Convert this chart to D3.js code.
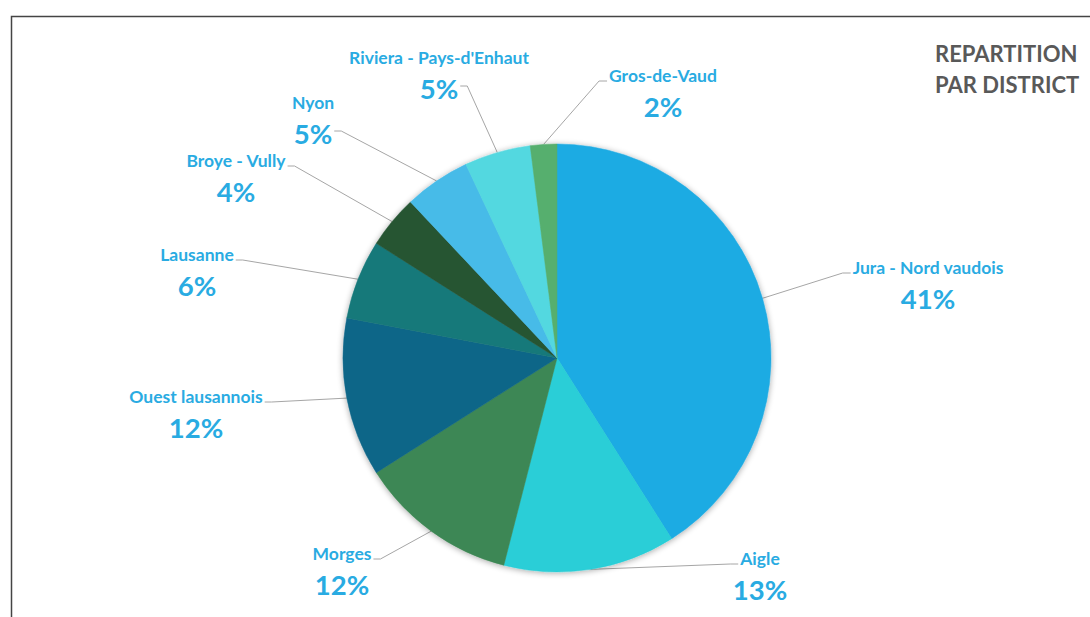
<!DOCTYPE html>
<html>
<head>
<meta charset="utf-8">
<script src="https://cdn.jsdelivr.net/npm/d3@7"></script>
<style>
  html, body { margin: 0; padding: 0; background: #fff; }
  svg { display: block; }
</style>
</head>
<body>
<svg id="chart" width="1090" height="617"></svg>
<script>
// District shares (percent), clockwise from 12 o'clock
const districts = ["Jura - Nord vaudois", "Aigle", "Morges", "Ouest lausannois", "Lausanne",
                   "Broye - Vully", "Nyon", "Riviera - Pays-d'Enhaut", "Gros-de-Vaud"];
const shares = [41, 13, 12, 12, 6, 4, 5, 5, 2];
const sliceColors = ["#1eabe3", "#29ced7", "#3e8754", "#0f6688", "#18797a",
                     "#265433", "#47bbe8", "#52d8e0", "#56af6e"];
const titleLines = ["REPARTITION", "PAR DISTRICT"];

// Label layout: name baseline centre, and which text line the leader joins
const labelPos = [
  { x: 928, y: 274, join: "name" }, { x: 760, y: 565, join: "name" },
  { x: 342, y: 560, join: "name" }, { x: 196, y: 403, join: "name" },
  { x: 197, y: 261, join: "name" }, { x: 236, y: 167, join: "name" },
  { x: 313, y: 109, join: "pct" }, { x: 439, y: 64, join: "pct" },
  { x: 663, y: 82, join: "name" }
];

const svg = d3.select("#chart");
const W = 1090, H = 617;
const cx = 557, cy = 358, R = 214;

// Frame
svg.append("path")
  .attr("d", `M11.5,${H} L11.5,16.5 L${W},16.5`)
  .attr("fill", "none").attr("stroke", "#444").attr("stroke-width", 1.5);

const defs = svg.append("defs");
const f = defs.append("filter").attr("id", "shadow")
  .attr("x", "-10%").attr("y", "-10%").attr("width", "120%").attr("height", "120%");
f.append("feGaussianBlur").attr("in", "SourceAlpha").attr("stdDeviation", 3).attr("result", "b");
f.append("feOffset").attr("in", "b").attr("dx", 0).attr("dy", 1).attr("result", "o");
f.append("feComponentTransfer").attr("in", "o").attr("result", "s")
  .append("feFuncA").attr("type", "linear").attr("slope", 0.35);
const m = f.append("feMerge");
m.append("feMergeNode").attr("in", "s");
m.append("feMergeNode").attr("in", "SourceGraphic");

const data = districts.map((d, i) => ({
  name: d, value: shares[i], color: sliceColors[i],
  pos: { x: labelPos[i].x - cx, y: labelPos[i].y - cy, join: labelPos[i].join }
}));
const pie = d3.pie().value(d => d.value).sort(null);
const arcs = pie(data);
const arc = d3.arc().innerRadius(0).outerRadius(R);

const g = svg.append("g").attr("transform", `translate(${cx},${cy})`);
const leaders = g.append("g");

g.append("g").attr("filter", "url(#shadow)")
  .selectAll("path").data(arcs).join("path")
  .attr("d", arc)
  .attr("fill", d => d.data.color)
  .attr("stroke", d => d.data.color).attr("stroke-width", 0.5);

// Leader lines: from slice edge at mid-angle to an elbow, then a short horizontal run
const edge = d => {
  const a = (d.startAngle + d.endAngle) / 2;
  return [R * Math.sin(a), -R * Math.cos(a)];
};
const nameFont = 17.5, pctFont = 27.5;
const font = "Lato, sans-serif";

const labels = g.append("g");
arcs.forEach(d => {
  const p = d.data.pos;
  const name = labels.append("text")
    .attr("x", p.x).attr("y", p.y)
    .attr("text-anchor", "middle")
    .attr("font-family", font).attr("font-weight", 700).attr("font-size", nameFont)
    .attr("fill", "#29abe2")
    .text(d.data.name);
  const pct = labels.append("text")
    .attr("x", p.x).attr("y", p.y + 35)
    .attr("text-anchor", "middle")
    .attr("font-family", font).attr("font-weight", 700).attr("font-size", pctFont)
    .attr("fill", "#29abe2")
    .text(d.data.value + "%");

  const onPct = p.join === "pct";
  const tw = (onPct ? pct : name).node().getComputedTextLength();
  const rightSide = p.x > 0;
  const textEdge = rightSide ? p.x - tw / 2 - 2 : p.x + tw / 2 + 2;
  const elbow = rightSide ? textEdge - 8 : textEdge + 7;
  const [ex, ey] = edge(d);
  const lineY = onPct ? p.y + 35 - 13 : p.y - 1;
  leaders.append("path")
    .attr("d", `M${ex},${ey} L${elbow},${lineY} L${textEdge},${lineY}`)
    .attr("fill", "none").attr("stroke", "#a6a6a6").attr("stroke-width", 1);
});

// Title
svg.append("text")
  .attr("x", 935).attr("y", 62)
  .attr("font-family", font).attr("font-weight", 700).attr("font-size", 22)
  .attr("fill", "#595959")
  .selectAll("tspan").data(titleLines).join("tspan")
  .attr("x", 935).attr("dy", (d, i) => i === 0 ? 0 : 31)
  .text(d => d);
</script>
</body>
</html>
